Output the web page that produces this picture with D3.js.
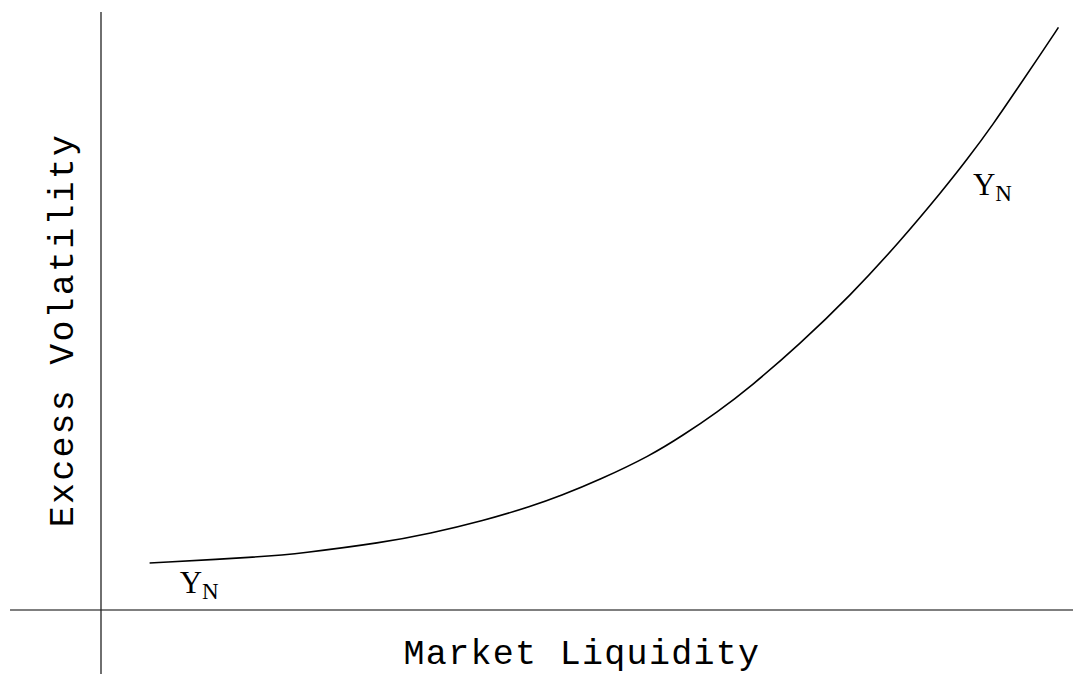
<!DOCTYPE html>
<html>
<head>
<meta charset="utf-8">
<script src="https://cdn.jsdelivr.net/npm/d3@7/dist/d3.min.js"></script>
<style>
  html, body { margin: 0; padding: 0; background: #fff; }
  svg { display: block; }
</style>
</head>
<body>
<svg id="chart" width="1073" height="674"></svg>
<script>
// Market liquidity (x) and excess volatility (y)
const liquidity  = [0.50, 1.64, 2.05, 2.90, 3.38, 3.93, 4.44, 4.72, 5.13, 5.65, 5.99, 6.34, 6.68, 7.19, 7.71, 8.22, 8.66, 8.91, 9.18, 9.45, 9.66, 9.85];
const volatility = [0.786, 0.887, 0.947, 1.127, 1.278, 1.490, 1.741, 1.903, 2.177, 2.579, 2.923, 3.309, 3.729, 4.448, 5.259, 6.162, 7.018, 7.532, 8.124, 8.774, 9.276, 9.742];
const curveLabels = [
  { x: 0.81, y: 0.284, main: "Y", sub: "N" },
  { x: 8.97, y: 6.94, main: "Y", sub: "N" }
];
const axisTitles = { x: "Market Liquidity", y: "Excess Volatility" };

const svg = d3.select("#chart");
const x = d3.scaleLinear().domain([0, 10]).range([101, 1073]);
const y = d3.scaleLinear().domain([0, 10]).range([610, 12]);

// axes (cross at origin)
svg.append("line")
  .attr("x1", x(-0.936)).attr("x2", x(10))
  .attr("y1", y(0)).attr("y2", y(0))
  .attr("stroke", "#555").attr("stroke-width", 1.4);
svg.append("line")
  .attr("x1", x(0)).attr("x2", x(0))
  .attr("y1", y(10)).attr("y2", y(-1.07))
  .attr("stroke", "#222").attr("stroke-width", 1.3);

// curve
const pts = liquidity.map((v, i) => [v, volatility[i]]);
svg.append("path")
  .datum(pts)
  .attr("fill", "none")
  .attr("stroke", "#000")
  .attr("stroke-width", 1.6)
  .attr("d", d3.line().x(d => x(d[0])).y(d => y(d[1])).curve(d3.curveBasis));

// Y_N labels
curveLabels.forEach(l => {
  const t = svg.append("text")
    .attr("x", x(l.x)).attr("y", y(l.y))
    .attr("font-family", "'Liberation Serif', 'DejaVu Serif', serif")
    .attr("font-size", 31)
    .attr("fill", "#000");
  t.append("tspan").text(l.main);
  t.append("tspan").attr("dy", 6).attr("font-size", 23).text(l.sub);
});

// axis titles
svg.append("text")
  .attr("x", 582).attr("y", 664)
  .attr("text-anchor", "middle")
  .attr("font-family", "'Liberation Mono', 'DejaVu Sans Mono', monospace")
  .attr("font-size", 35)
  .attr("letter-spacing", 1.3)
  .attr("fill", "#000")
  .text(axisTitles.x);
svg.append("text")
  .attr("transform", "translate(73,330) rotate(-90)")
  .attr("text-anchor", "middle")
  .attr("font-family", "'Liberation Mono', 'DejaVu Sans Mono', monospace")
  .attr("font-size", 35)
  .attr("letter-spacing", 2.2)
  .attr("fill", "#000")
  .text(axisTitles.y);
</script>
</body>
</html>
